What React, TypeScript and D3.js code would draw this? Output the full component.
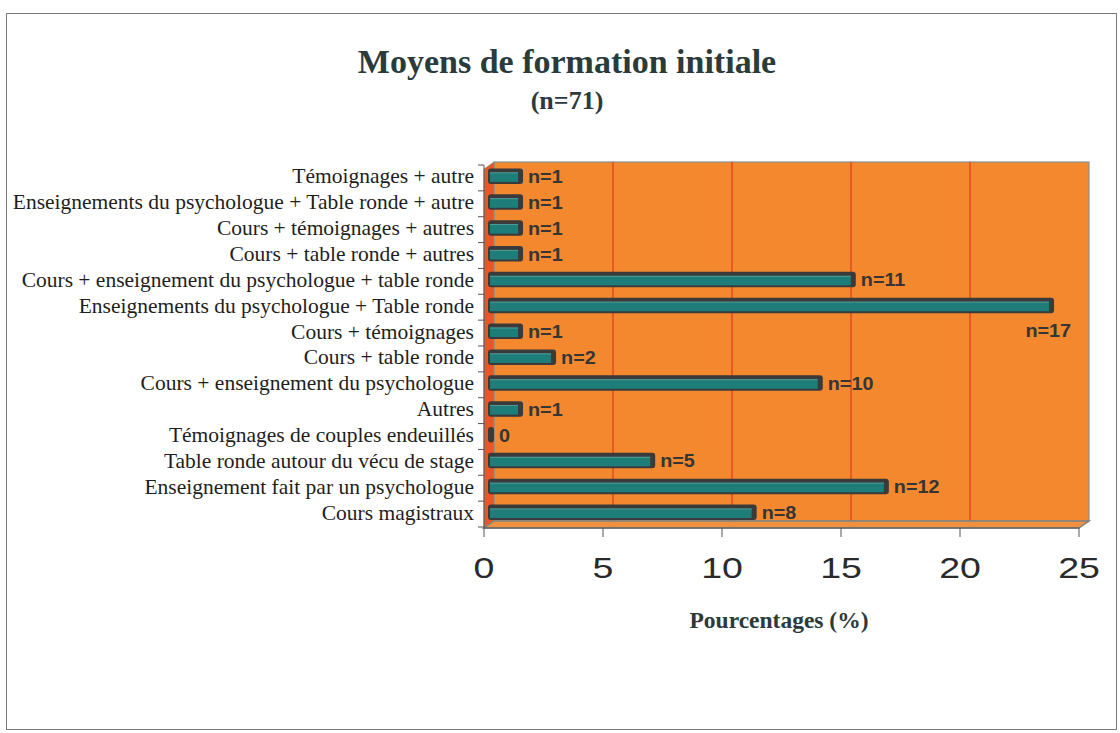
import React from "react";
import * as d3 from "d3";

const categories = [
  "Témoignages + autre",
  "Enseignements du psychologue + Table ronde + autre",
  "Cours + témoignages + autres",
  "Cours + table ronde + autres",
  "Cours + enseignement du psychologue + table ronde",
  "Enseignements du psychologue + Table ronde",
  "Cours + témoignages",
  "Cours + table ronde",
  "Cours + enseignement du psychologue",
  "Autres",
  "Témoignages de couples endeuillés",
  "Table ronde autour du vécu de stage",
  "Enseignement fait par un psychologue",
  "Cours magistraux",
];
const percentages = [1.4, 1.4, 1.4, 1.4, 15.5, 23.9, 1.4, 2.8, 14.1, 1.4, 0, 7.0, 16.9, 11.3];
const counts = ["n=1", "n=1", "n=1", "n=1", "n=11", "n=17", "n=1", "n=2", "n=10", "n=1", "0", "n=5", "n=12", "n=8"];
const xTicks = [0, 5, 10, 15, 20, 25];

const ORANGE = "#F3882F";
const RED = "#E64A25";
const TEAL = "#1E7C79";
const DARK = "#3A3A3A";
const DX = 10;
const DY = -7;

export default function App() {
  const x = d3.scaleLinear().domain([0, 25]).range([484, 1079]);
  const xb = d3.scaleLinear().domain([0, 25]).range([490, 1080]);
  const y = d3.scaleBand<string>().domain(categories).range([165, 527]).padding(0);
  const top = 169, bottom = 528;
  const x0 = x(0), x1 = x(25);
  const serif = "'Liberation Serif', 'Times New Roman', serif";
  const sans = "'Liberation Sans', Arial, sans-serif";

  return (
    <svg width={1120} height={733} style={{ display: "block", position: "absolute", left: 0, top: 0 }}>
      <rect x={0} y={0} width={1120} height={733} fill="#fff" />
      <rect x={6.5} y={13.5} width={1110} height={716} fill="none" stroke="#7a7a7a" strokeWidth={1} />

      {/* title */}
      <text x={567} y={73} textAnchor="middle" fontFamily={serif} fontWeight="bold" fontSize={34} fill="#2b3a3a">
        Moyens de formation initiale
      </text>
      <text x={567} y={109} textAnchor="middle" fontFamily={serif} fontWeight="bold" fontSize={26} fill="#2b3a3a">
        (n=71)
      </text>

      {/* back wall */}
      <rect x={x0 + DX} y={top + DY} width={x1 - x0} height={bottom - top} fill={ORANGE} stroke="#8a8f8a" strokeWidth={1.2} />
      {xTicks.slice(1, -1).map((t) => (
        <line key={"g" + t} x1={x(t) + DX} x2={x(t) + DX} y1={top + DY} y2={bottom + DY} stroke={RED} strokeWidth={1.5} />
      ))}
      {/* left wall */}
      <polygon
        points={`${x0},${top} ${x0 + DX},${top + DY} ${x0 + DX},${bottom + DY} ${x0},${bottom}`}
        fill="#E8572A"
        stroke="#8a8f8a"
        strokeWidth={0.8}
      />
      {/* floor */}
      <polygon
        points={`${x0},${bottom} ${x1},${bottom} ${x1 + DX},${bottom + DY} ${x0 + DX},${bottom + DY}`}
        fill="#F09040"
        stroke="#7d8480"
        strokeWidth={1.5}
      />

      {/* bars */}
      {categories.map((c, i) => {
        const v = percentages[i];
        const cy = (y(c) as number) + y.bandwidth() / 2 - 1.5;
        const s = xb(0) - 2;
        const e = Math.max(xb(v), s + 6);
        return (
          <g key={c}>
            <rect x={s} y={cy - 8} width={e - s} height={15.5} rx={3} fill={DARK} />
            {v > 0 && <rect x={s + 2} y={cy - 4} width={Math.max(e - s - 7, 1)} height={9.5} fill={TEAL} />}
            {v > 0 && <line x1={s + 2} x2={e - 5} y1={cy - 3.6} y2={cy - 3.6} stroke="#5fa7a2" strokeWidth={0.8} />}
          </g>
        );
      })}

      {/* count labels */}
      {categories.map((c, i) => {
        const v = percentages[i];
        const cy = (y(c) as number) + y.bandwidth() / 2 - 1.5;
        const e = Math.max(xb(v), xb(0) + 4);
        const below = v > 22;
        const lx = below ? e + 17 : e + 5;
        const ly = below ? cy + 31 : cy + 6.5;
        return (
          <text
            key={"n" + c}
            x={0}
            y={0}
            transform={`translate(${lx},${ly}) scale(1.1,1)`}
            textAnchor={below ? "end" : "start"}
            fontFamily={sans}
            fontWeight="bold"
            fontSize={18}
            fill="#353535"
          >
            {counts[i]}
          </text>
        );
      })}

      {/* y axis */}
      <line x1={x0} x2={x0} y1={165} y2={bottom} stroke="#555" strokeWidth={1} />
      {[...categories.map((c) => y(c) as number), 527].map((yy, i) => (
        <line key={"yt" + i} x1={x0 - 6} x2={x0} y1={yy} y2={yy} stroke="#555" strokeWidth={1} />
      ))}
      {categories.map((c) => (
        <text
          key={"l" + c}
          x={474}
          y={(y(c) as number) + y.bandwidth() / 2 + 5.5}
          textAnchor="end"
          fontFamily={serif}
          fontSize={21.5}
          fill="#1e1e1e"
        >
          {c}
        </text>
      ))}

      {/* x axis */}
      <line x1={x0} x2={x1} y1={bottom} y2={bottom} stroke="#555" strokeWidth={1} />
      {xTicks.map((t) => (
        <g key={"xt" + t}>
          <line x1={x(t)} x2={x(t)} y1={bottom} y2={bottom + 9} stroke="#555" strokeWidth={1} />
          <text
            x={0}
            y={0}
            transform={`translate(${x(t)},${578}) scale(1.25,1)`}
            textAnchor="middle"
            fontFamily={sans}
            fontSize={30}
            fill="#2a2a2a"
          >
            {t}
          </text>
        </g>
      ))}
      <text x={779} y={628} textAnchor="middle" fontFamily={serif} fontWeight="bold" fontSize={23.5} fill="#2b3a3a">
        Pourcentages (%)
      </text>
    </svg>
  );
}
